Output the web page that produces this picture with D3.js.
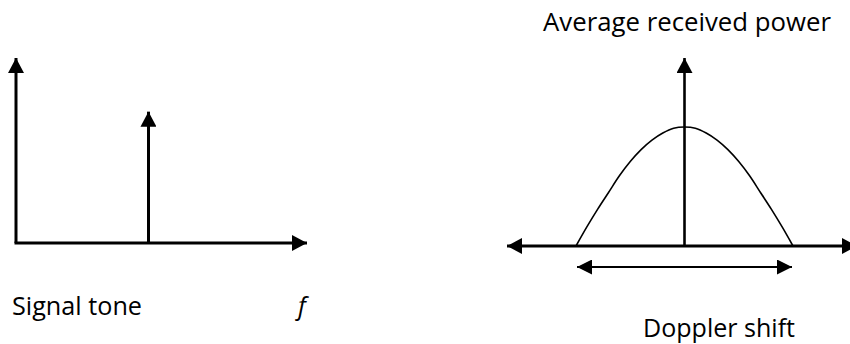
<!DOCTYPE html>
<html>
<head>
<meta charset="utf-8">
<script src="https://cdn.jsdelivr.net/npm/d3@7/dist/d3.min.js"></script>
<style>
  html, body { margin: 0; padding: 0; background: #fff; }
  svg { display: block; }
  text { font-family: "Open Sans", sans-serif; fill: #000; }
</style>
</head>
<body>
<svg id="chart" width="850" height="344"></svg>
<script>
// ---- data ----
// left panel: single signal tone (relative frequency, relative amplitude)
const toneFreq = [0.48];
const toneAmp = [0.71];
// right panel: Doppler spectrum, relative frequency vs average received power
const dopplerFreq = [-1.0, -0.9, -0.8, -0.7, -0.6, -0.5, -0.4, -0.3, -0.2, -0.1, 0.0, 0.1, 0.2, 0.3, 0.4, 0.5, 0.6, 0.7, 0.8, 0.9, 1.0];
const dopplerPower = [0.0, 0.16, 0.31, 0.45, 0.59, 0.71, 0.81, 0.89, 0.95, 0.99, 1.0, 0.99, 0.95, 0.89, 0.81, 0.71, 0.59, 0.45, 0.31, 0.16, 0.0];
const labels = {
  tone: "Signal tone",
  freq: "f",
  power: "Average received power",
  shift: "Doppler shift"
};

const svg = d3.select("#chart");

// arrowhead marker
const defs = svg.append("defs");
function marker(id, len, wid) {
  defs.append("marker")
    .attr("id", id)
    .attr("viewBox", `0 0 ${len} ${wid}`)
    .attr("refX", len).attr("refY", wid / 2)
    .attr("markerWidth", len).attr("markerHeight", wid)
    .attr("markerUnits", "userSpaceOnUse")
    .attr("orient", "auto-start-reverse")
    .append("path")
    .attr("d", `M0,0 L${len},${wid / 2} L0,${wid} Z`)
    .attr("fill", "#000");
}
marker("ah", 15, 16);
marker("ahs", 15, 15);

// ---- left panel ----
const lx = d3.scaleLinear().domain([0, 1]).range([16, 292]);
const ly = d3.scaleLinear().domain([0, 1]).range([243, 58]);
const left = svg.append("g");
// y axis
left.append("line")
  .attr("x1", lx(0)).attr("y1", ly(0)).attr("x2", lx(0)).attr("y2", ly(1))
  .attr("stroke", "#000").attr("stroke-width", 3).attr("marker-end", "url(#ah)");
// x axis
left.append("line")
  .attr("x1", lx(0) - 1.5).attr("y1", ly(0)).attr("x2", 307).attr("y2", ly(0))
  .attr("stroke", "#000").attr("stroke-width", 3).attr("marker-end", "url(#ah)");
// tone spike
left.selectAll("line.tone").data(toneFreq).join("line")
  .attr("class", "tone")
  .attr("x1", d => lx(d)).attr("y1", ly(0))
  .attr("x2", d => lx(d)).attr("y2", (d, i) => ly(toneAmp[i]))
  .attr("stroke", "#000").attr("stroke-width", 3).attr("marker-end", "url(#ah)");

left.append("text").attr("x", 12).attr("y", 315)
  .attr("font-size", 25).attr("textLength", 130).attr("lengthAdjust", "spacingAndGlyphs")
  .text(labels.tone);
left.append("text").attr("x", 298).attr("y", 315)
  .attr("font-size", 25).attr("font-style", "italic")
  .text(labels.freq);

// ---- right panel ----
const rx = d3.scaleLinear().domain([-1, 1]).range([576, 793]);
const ry = d3.scaleLinear().domain([0, 1]).range([246, 127]);
const right = svg.append("g");

// spectrum curve
const line = d3.line()
  .x((d, i) => rx(dopplerFreq[i]))
  .y(d => ry(d))
  .curve(d3.curveCatmullRom);
right.append("path")
  .datum(dopplerPower)
  .attr("d", line)
  .attr("fill", "none").attr("stroke", "#000").attr("stroke-width", 1.6);

// horizontal axis (double ended)
right.append("line")
  .attr("x1", 507).attr("y1", ry(0)).attr("x2", 857).attr("y2", ry(0))
  .attr("stroke", "#000").attr("stroke-width", 3)
  .attr("marker-start", "url(#ah)").attr("marker-end", "url(#ah)");
// vertical axis
right.append("line")
  .attr("x1", rx(0)).attr("y1", ry(0)).attr("x2", rx(0)).attr("y2", 58)
  .attr("stroke", "#000").attr("stroke-width", 2.6).attr("marker-end", "url(#ah)");
// doppler spread double arrow
right.append("line")
  .attr("x1", rx(-1) + 1).attr("y1", 267).attr("x2", rx(1) - 1).attr("y2", 267)
  .attr("stroke", "#000").attr("stroke-width", 2.2)
  .attr("marker-start", "url(#ahs)").attr("marker-end", "url(#ahs)");

right.append("text").attr("x", 543).attr("y", 31)
  .attr("font-size", 25).attr("textLength", 288).attr("lengthAdjust", "spacingAndGlyphs")
  .text(labels.power);
right.append("text").attr("x", 643).attr("y", 337)
  .attr("font-size", 25).attr("textLength", 152).attr("lengthAdjust", "spacingAndGlyphs")
  .text(labels.shift);
</script>
</body>
</html>
